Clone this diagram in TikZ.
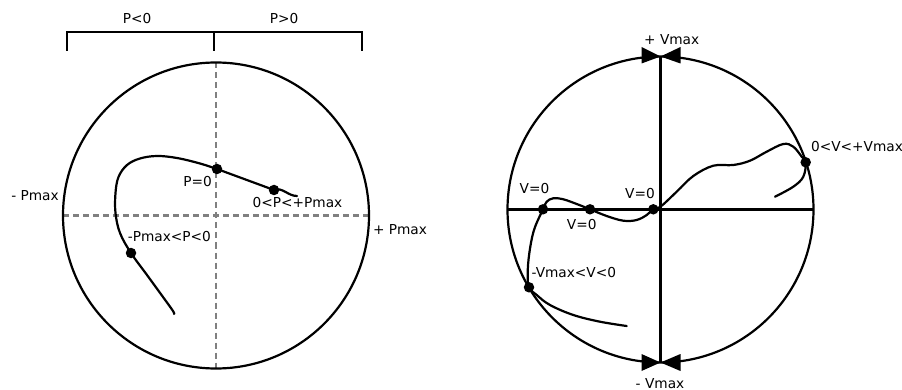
\documentclass[tikz,border=0pt]{standalone}
\usepackage{fontspec}
\setmainfont{DejaVu Sans}
\begin{document}
\begin{tikzpicture}[x=1pt,y=-1pt,
  lbl/.style={inner sep=0pt,font=\fontsize{13.7}{16}\selectfont},
  dot/.style={circle,fill=black,inner sep=0pt,minimum size=10.5pt},
  ring/.style={line width=2.2pt},
  axisdash/.style={line width=2.2pt,draw=black!50,dash pattern=on 6pt off 4pt},
  axisline/.style={line width=2.2pt},
  curve/.style={line width=2.2pt,line cap=round},
  tri/.style={fill=black}]
\useasboundingbox (0,0) rectangle (902,390);

% ---------- left diagram ----------
\coordinate (LC) at (216,215.5);
\draw[axisdash] (216,62.5) coordinate (LT) -- (216,368.5) coordinate (LB);
\draw[axisdash] (63,215.5) coordinate (LL) -- (369,215.5) coordinate (LR);
\draw[ring] (LC) circle[radius=153];

% bracket
\coordinate (B1) at (67,51);
\coordinate (B2) at (67,32);
\coordinate (B3) at (362,32);
\coordinate (B4) at (362,51);
\coordinate (BM1) at (214,32);
\coordinate (BM2) at (214,51);
\draw[line width=2.2pt] (B1) -- (B2) -- (B3) -- (B4);
\draw[line width=2.2pt] (BM1) -- (BM2);
\node[lbl] (lneg) at (137,18.3) {P<0};
\node[lbl] (lpos) at (284,18.3) {P>0};

\node[dot] (p0) at (217,169) {};
\node[dot] (pp) at (274,190) {};
\node[dot] (pn) at (131,253) {};
\coordinate (pend) at (297,196);

\draw[curve] plot[smooth,tension=0.6] coordinates {(174,314) (173,311) (163,297) (147,275) (pn.center) (120,233) (115.5,213) (115.5,193) (118.5,177) (127,165) (140,158.5) (157,156) (177,158) (200,163.5) (p0.center)};
\draw[curve] (p0.center) -- (pp.center) to[out=20,in=180] (pend);

\node[lbl] (lp0) at (197.7,181.7) {P=0};
\node[lbl] (lpp) at (297.5,202.5) {0<P<+Pmax};
\node[lbl] (lpn) at (169.3,236.7) {-Pmax<P<0};
\node[lbl] (lmin) at (35,195.7) {- Pmax};
\node[lbl] (lmax) at (400,229.3) {+ Pmax};

% ---------- right diagram ----------
\coordinate (RC) at (660.5,209.5);
\coordinate (RT) at (660.5,56.5);
\coordinate (RB) at (660.5,362.5);
\coordinate (RL) at (507.5,209.5);
\coordinate (RR) at (813.5,209.5);
\draw[ring] (RC) circle[radius=153];
\draw[axisline] (RT) -- (RB);
\draw[axisline] (RL) -- (RR);

% bow-tie arrow heads
\fill[tri] (RT) -- (641.5,47) -- (641.5,63.5) -- cycle;
\fill[tri] (RT) -- (680.5,47) -- (680.5,63.5) -- cycle;
\fill[tri] (RB) -- (641.5,354) -- (641.5,371) -- cycle;
\fill[tri] (RB) -- (680.5,354) -- (680.5,371) -- cycle;

\node[dot] (v1) at (543,209.3) {};
\node[dot] (v2) at (590,209.3) {};
\node[dot] (v3) at (653.3,209.3) {};
\node[dot] (vp) at (805.7,162.3) {};
\node[dot] (vn) at (529,287.3) {};

\draw[curve] plot[smooth,tension=0.6] coordinates {(626.7,326) (600,321.7) (573.3,315) (550,305) (536.7,295) (vn.center) (527.7,273.3) (529.3,253.3) (534,230) (v1.center) (546.7,201.7) (553.3,198.3) (563.3,199.3) (576.7,204) (v2.center) (606.7,216) (623.3,220.7) (636.7,220) (646.7,215) (v3.center) (660.7,206.5) (676.7,191.7) (693.3,176) (713.3,165.7) (733.3,165) (750,160.7) (766.7,151.7) (783.3,144) (793.3,146.7) (801.7,156.7) (vp.center) (803.3,176.7) (793.3,186.7) (775,196.7)};

\node[lbl] (lvmax) at (671.7,40) {+ Vmax};
\node[lbl] (lvmin) at (660,383.3) {- Vmax};
\node[lbl] (lvp) at (857,146.7) {0<V<+Vmax};
\node[lbl] (lv1) at (534.5,189) {V=0};
\node[lbl] (lv2) at (581.7,225) {V=0};
\node[lbl] (lv3) at (640,194) {V=0};
\node[lbl] (lvn) at (573.8,272.7) {-Vmax<V<0};
\end{tikzpicture}
\end{document}
